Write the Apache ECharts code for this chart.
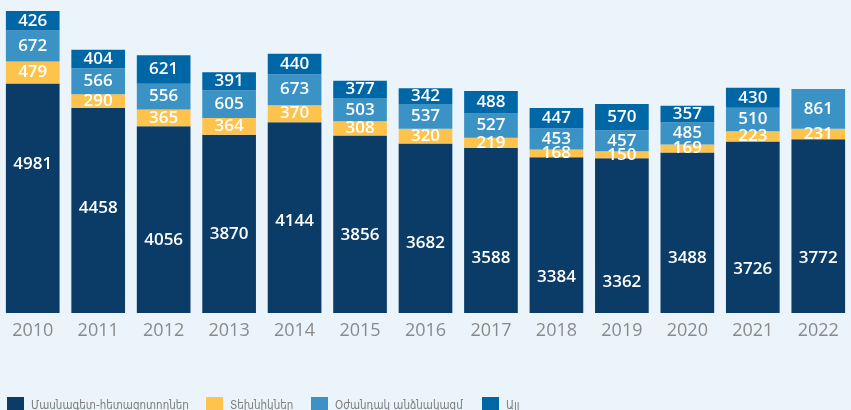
<!DOCTYPE html>
<html>
<head>
<meta charset="utf-8">
<script src="https://cdn.jsdelivr.net/npm/echarts@6/dist/echarts.min.js"></script>
<style>
  html, body { margin: 0; padding: 0; background: #eaf4fa; }
  #chart { width: 851px; height: 410px; }
</style>
</head>
<body>
<div id="chart"></div>
<script>
  // տարիներ
  var years = ['2010', '2011', '2012', '2013', '2014', '2015', '2016', '2017', '2018', '2019', '2020', '2021', '2022'];
  var seriesNames = ['Մասնագետ-հետազոտողներ', 'Տեխնիկներ', 'Օժանդակ անձնակազմ', 'Այլ'];
  var researchers = [4981, 4458, 4056, 3870, 4144, 3856, 3682, 3588, 3384, 3362, 3488, 3726, 3772];
  var technicians = [479, 290, 365, 364, 370, 308, 320, 219, 168, 150, 169, 223, 231];
  var support = [672, 566, 556, 605, 673, 503, 537, 527, 453, 457, 485, 510, 861];
  var other = [426, 404, 621, 391, 440, 377, 342, 488, 447, 570, 357, 430, null];

  // vertical nudge of the dark-bar labels (px), as placed in the original
  var researcherLabelShift = [-34, -2, 21, 10, 4, 11, 15, 28, 42, 47, 25, 42, 32];
  // where each legend entry starts
  var legendLeft = [2, 201, 306, 477];

  var colors = ['#0b3c68', '#fec34c', '#3a92c5', '#0067a7'];
  var values = [researchers, technicians, support, other];

  var chart = echarts.init(document.getElementById('chart'));
  chart.setOption({
    backgroundColor: '#eaf4fa',
    color: colors,
    animation: false,
    grid: { left: -2, right: 0, top: 11, bottom: 97 },
    legend: seriesNames.map(function (name, i) {
      return {
        left: legendLeft[i],
        top: 392,
        itemWidth: 17,
        itemHeight: 18,
        itemGap: 9,
        icon: 'rect',
        textStyle: { color: '#7d7d7d', fontSize: 11.5, fontFamily: 'DejaVu Sans Condensed', padding: [0, 0, 0, 2] },
        data: [name]
      };
    }),
    xAxis: {
      type: 'category',
      data: years,
      axisLine: { show: false },
      axisTick: { show: false },
      axisLabel: { color: '#8a8a8a', fontSize: 18, margin: 9, fontFamily: 'Open Sans' }
    },
    yAxis: {
      type: 'value',
      min: 0,
      max: 6558,
      show: false,
      splitLine: { show: false }
    },
    series: seriesNames.map(function (name, i) {
      var data = values[i];
      if (i === 0) {
        data = researchers.map(function (v, k) {
          return { value: v, label: { offset: [0, researcherLabelShift[k]] } };
        });
      }
      return {
        name: name,
        type: 'bar',
        stack: 'total',
        barWidth: '82%',
        data: data,
        label: {
          show: true,
          position: 'inside',
          color: '#fff',
          fontSize: 17,
          fontWeight: 600,
          fontFamily: 'Open Sans'
        }
      };
    })
  });
</script>
</body>
</html>
